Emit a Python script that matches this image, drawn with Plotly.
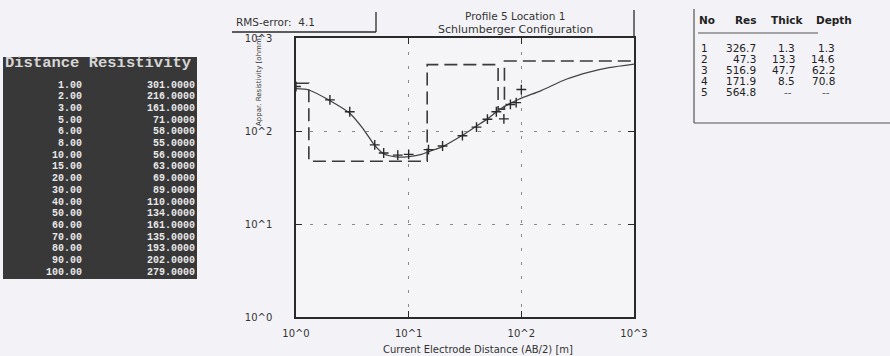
import plotly.graph_objects as go

# Measured sounding data (AB/2 in m, apparent resistivity in ohm-m)
distance = [1, 2, 3, 5, 6, 8, 10, 15, 20, 30, 40, 50, 60, 70, 80, 90, 100]
resistivity = [301, 216, 161, 71, 58, 55, 56, 63, 69, 89, 110, 134, 161, 135, 193, 202, 279]

# Calculated response curve of the fitted model
calc_ab2 = [1, 1.3, 2, 3, 4, 5, 6, 8, 10, 13, 15, 20, 30, 40, 50, 65, 94, 150, 250, 400, 600, 1000]
calc_rho = [285, 276, 212, 155, 103, 70, 57, 52.5, 53, 56, 60, 68, 90, 113, 135, 172, 218, 272, 360, 430, 480, 525]

# Layered model
layer_no = [1, 2, 3, 4, 5]
layer_res = [326.7, 47.3, 516.9, 171.9, 564.8]
layer_thick = [1.3, 13.3, 47.7, 8.5]
layer_depth = [1.3, 14.6, 62.2, 70.8]

tick_vals = [1, 10, 100, 1000]
tick_text = ["10^0", "10^1", "10^2", "10^3"]

rms_error = 4.1
x_range = [1, 1000]

W, H = 890, 356
L, R, T, B = 296, 634, 38, 317


def px(x):
    return (x - L) / (R - L)


def py(y):
    return (B - y) / (B - T)


# Step profile of the layered model
step_x, step_y = [x_range[0]], [layer_res[0]]
for i, d in enumerate(layer_depth):
    step_x += [d, d]
    step_y += [layer_res[i], layer_res[i + 1]]
step_x.append(x_range[1])
step_y.append(layer_res[-1])

ink = "#2a2a2a"
fig = go.Figure()

fig.add_trace(go.Scatter(
    x=step_x, y=step_y, mode="lines",
    line=dict(color="#3a3a3a", width=1.6, dash="13px,6px"),
    hoverinfo="skip", showlegend=False))

fig.add_trace(go.Scatter(
    x=calc_ab2, y=calc_rho, mode="lines",
    line=dict(color="#444", width=1.3, shape="spline", smoothing=0.8),
    showlegend=False))

fig.add_trace(go.Scatter(
    x=distance, y=resistivity, mode="markers",
    marker=dict(symbol="cross-thin", size=7, line=dict(color=ink, width=1.4)),
    showlegend=False))

axis_common = dict(
    type="log", tickvals=tick_vals, ticktext=tick_text,
    showgrid=True, gridcolor="#8a8a8a", gridwidth=1, griddash="3px,11px",
    showline=True, linecolor=ink, linewidth=1.5, mirror="ticks",
    ticks="inside", ticklen=6, tickcolor=ink, zeroline=False,
    tickfont=dict(family="DejaVu Sans", size=10, color="#333"),
)
fig.update_xaxes(range=[0, 3], ticklabelstandoff=6, **axis_common)
fig.update_yaxes(range=[0, 3], ticklabelstandoff=20, **axis_common)

shapes = []


def line(x0, y0, x1, y1, color=ink, width=1.3):
    shapes.append(dict(type="line", xref="paper", yref="paper",
                       x0=px(x0), y0=py(y0), x1=px(x1), y1=py(y1),
                       line=dict(color=color, width=width)))


# header frame lines
line(232, 32, 376, 32)
line(376, 12, 376, 32)
line(634, 10, 634, 38)

# model table frame
line(694, 9, 694, 123, color="#555", width=1.2)
line(694, 123, 890, 123, color="#555", width=1.2)
line(698, 33, 818, 33, color="#555", width=1.2)

# dark data listing panel
shapes.append(dict(type="rect", xref="paper", yref="paper",
                   x0=px(3), y0=py(279), x1=px(197), y1=py(57),
                   fillcolor="#383838", line=dict(width=0), layer="above"))

annotations = []


def text(x, y, s, anchor="center", size=11, family="DejaVu Sans", color="#333", bold=False, angle=0):
    annotations.append(dict(
        xref="paper", yref="paper", x=px(x), y=py(y), text=f"<b>{s}</b>" if bold else s,
        showarrow=False, xanchor=anchor, yanchor="middle", textangle=angle, borderpad=0,
        font=dict(family=family, size=size, color=color)))


text(235, 22, f"RMS-error:  {rms_error}", anchor="left", size=10.5)
text(515, 16, "Profile 5 Location 1", size=10.5)
text(515, 30, "Schlumberger Configuration", size=11)
text(478, 349, "Current Electrode Distance (AB/2) [m]", size=10)
text(259, 81, "Appar. Resistivity [ohmm]", size=7, angle=-90)

# listing of measured values
mono = "Liberation Mono"
text(4, 63, "Distance Resistivity", anchor="left", size=15.5, family=mono, color="#d6d6d6", bold=True)
for i, (d, r) in enumerate(zip(distance, resistivity)):
    yy = 85 + i * 11.7
    text(83, yy, f"{d:.2f}", anchor="right", size=10, family=mono, color="#e8e8e8", bold=True)
    text(196, yy, f"{r:.4f}", anchor="right", size=10, family=mono, color="#e8e8e8", bold=True)

# model parameter table
text(698, 20, "No", anchor="left", size=10.5, bold=True, color="#222")
text(745, 20, "Res", size=10.5, bold=True, color="#222")
text(787, 20, "Thick", size=10.5, bold=True, color="#222")
text(834, 20, "Depth", size=10.5, bold=True, color="#222")
for i, n in enumerate(layer_no):
    yy = 48 + i * 10.9
    text(700, yy, str(n), anchor="left", size=10.5, color="#222")
    text(757, yy, f"{layer_res[i]:.1f}", anchor="right", size=10.5, color="#222")
    if i < len(layer_thick):
        text(796, yy, f"{layer_thick[i]:.1f}", anchor="right", size=10.5, color="#222")
        text(836, yy, f"{layer_depth[i]:.1f}", anchor="right", size=10.5, color="#222")
    else:
        text(788, yy, "--", size=10.5, color="#555")
        text(826, yy, "--", size=10.5, color="#555")

fig.update_layout(
    width=W, height=H,
    margin=dict(l=L, r=W - R, t=T, b=H - B),
    paper_bgcolor="#f3f3f7", plot_bgcolor="#f5f5f8",
    shapes=shapes, annotations=annotations,
    showlegend=False,
)

fig.write_html("out.html")
